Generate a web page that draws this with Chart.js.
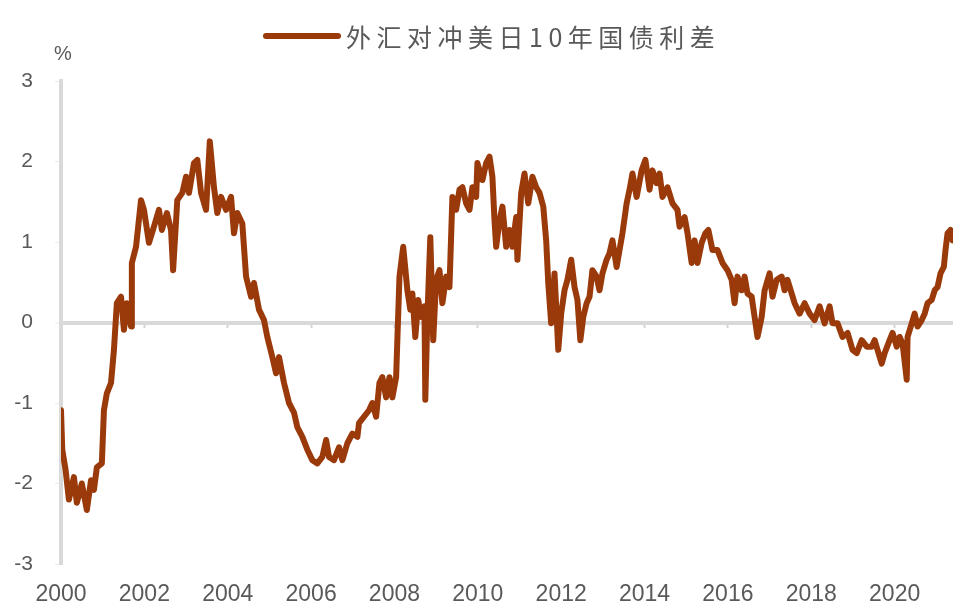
<!DOCTYPE html>
<html>
<head>
<meta charset="utf-8">
<script src="https://cdn.jsdelivr.net/npm/chart.js@4.4.1/dist/chart.umd.min.js"></script>
<style>
  html, body { margin: 0; padding: 0; background: #fff; }
  canvas { display: block; }
</style>
</head>
<body>
<canvas id="chart" width="964" height="611"></canvas>
<script>
// hedged US-JP 10y spread (decimal years, %)
const seriesName = '外汇对冲美日10年国债利差';
const years = [
  2000.00, 2000.03, 2000.11, 2000.19, 2000.31, 2000.38, 2000.50, 2000.62, 2000.72, 2000.79,
  2000.86, 2000.98, 2001.03, 2001.10, 2001.20, 2001.27, 2001.34, 2001.44, 2001.51, 2001.58,
  2001.68, 2001.70, 2001.80, 2001.92, 2001.99, 2002.11, 2002.23, 2002.35, 2002.42, 2002.54,
  2002.64, 2002.69, 2002.79, 2002.91, 2003.00, 2003.07, 2003.19, 2003.27, 2003.36, 2003.48,
  2003.57, 2003.67, 2003.75, 2003.84, 2003.96, 2004.08, 2004.15, 2004.23, 2004.35, 2004.44,
  2004.56, 2004.63, 2004.75, 2004.87, 2004.95, 2005.07, 2005.16, 2005.23, 2005.35, 2005.47,
  2005.59, 2005.67, 2005.79, 2005.91, 2006.03, 2006.15, 2006.27, 2006.36, 2006.43, 2006.55,
  2006.67, 2006.75, 2006.87, 2006.99, 2007.11, 2007.15, 2007.39, 2007.47, 2007.56, 2007.64,
  2007.71, 2007.80, 2007.88, 2007.95, 2008.04, 2008.12, 2008.21, 2008.31, 2008.38, 2008.43,
  2008.50, 2008.57, 2008.64, 2008.72, 2008.74, 2008.79, 2008.86, 2008.93, 2009.00, 2009.08,
  2009.15, 2009.24, 2009.32, 2009.39, 2009.48, 2009.56, 2009.63, 2009.72, 2009.80, 2009.87,
  2009.96, 2009.99, 2010.11, 2010.20, 2010.28, 2010.35, 2010.40, 2010.44, 2010.52, 2010.59,
  2010.68, 2010.76, 2010.83, 2010.92, 2010.95, 2011.04, 2011.12, 2011.21, 2011.31, 2011.40,
  2011.48, 2011.57, 2011.64, 2011.69, 2011.76, 2011.84, 2011.88, 2011.93, 2012.00, 2012.08,
  2012.15, 2012.24, 2012.32, 2012.39, 2012.46, 2012.53, 2012.61, 2012.68, 2012.75, 2012.85,
  2012.92, 2012.99, 2013.09, 2013.16, 2013.23, 2013.33, 2013.40, 2013.47, 2013.57, 2013.64,
  2013.71, 2013.81, 2013.93, 2014.02, 2014.12, 2014.19, 2014.29, 2014.36, 2014.43, 2014.55,
  2014.67, 2014.79, 2014.84, 2014.96, 2015.03, 2015.13, 2015.20, 2015.27, 2015.37, 2015.46,
  2015.53, 2015.63, 2015.75, 2015.87, 2015.99, 2016.09, 2016.16, 2016.23, 2016.33, 2016.40,
  2016.47, 2016.57, 2016.64, 2016.71, 2016.81, 2016.88, 2017.00, 2017.07, 2017.17, 2017.29,
  2017.36, 2017.43, 2017.60, 2017.72, 2017.84, 2017.96, 2018.08, 2018.20, 2018.32, 2018.44,
  2018.51, 2018.63, 2018.75, 2018.87, 2018.99, 2019.09, 2019.21, 2019.33, 2019.45, 2019.52,
  2019.59, 2019.69, 2019.76, 2019.88, 2019.95, 2020.05, 2020.12, 2020.19, 2020.29, 2020.31,
  2020.41, 2020.48, 2020.55, 2020.65, 2020.72, 2020.79, 2020.89, 2020.96, 2021.03, 2021.10,
  2021.18, 2021.22, 2021.27, 2021.34, 2021.39
];
const spread = [
  -1.09, -1.58, -1.83, -2.20, -1.92, -2.24, -2.00, -2.33, -1.96, -2.08,
  -1.80, -1.75, -1.09, -0.88, -0.75, -0.34, 0.24, 0.32, -0.09, 0.24,
  -0.05, 0.74, 0.94, 1.52, 1.40, 0.99, 1.19, 1.40, 1.15, 1.36,
  1.15, 0.65, 1.52, 1.61, 1.81, 1.61, 1.98, 2.02, 1.61, 1.40,
  2.25, 1.68, 1.36, 1.56, 1.40, 1.56, 1.11, 1.36, 1.23, 0.57,
  0.32, 0.49, 0.16, 0.03, -0.18, -0.43, -0.63, -0.43, -0.75, -1.00,
  -1.12, -1.30, -1.42, -1.58, -1.71, -1.75, -1.67, -1.46, -1.67, -1.71,
  -1.55, -1.71, -1.50, -1.38, -1.42, -1.25, -1.09, -1.00, -1.17, -0.75,
  -0.68, -0.93, -0.68, -0.93, -0.68, 0.57, 0.94, 0.40, 0.16, 0.36,
  -0.18, 0.28, 0.07, 0.20, -0.96, 0.07, 1.06, -0.22, 0.53, 0.65,
  0.24, 0.57, 0.44, 1.56, 1.40, 1.65, 1.68, 1.48, 1.40, 1.68,
  1.56, 1.98, 1.77, 1.98, 2.06, 1.81, 1.27, 0.94, 1.27, 1.44,
  0.94, 1.15, 0.94, 1.31, 0.78, 1.61, 1.85, 1.48, 1.81, 1.68,
  1.61, 1.44, 1.02, 0.49, -0.01, 0.61, 0.20, -0.34, 0.11, 0.40,
  0.53, 0.78, 0.44, 0.28, -0.22, 0.07, 0.24, 0.32, 0.65, 0.57,
  0.40, 0.61, 0.78, 0.86, 1.02, 0.69, 0.90, 1.11, 1.48, 1.65,
  1.85, 1.56, 1.89, 2.02, 1.65, 1.89, 1.73, 1.85, 1.56, 1.68,
  1.48, 1.40, 1.19, 1.31, 1.11, 0.74, 1.02, 0.74, 0.99, 1.11,
  1.15, 0.90, 0.90, 0.74, 0.65, 0.53, 0.24, 0.57, 0.40, 0.57,
  0.36, 0.32, 0.07, -0.18, 0.07, 0.40, 0.61, 0.32, 0.53, 0.57,
  0.40, 0.53, 0.24, 0.11, 0.24, 0.11, 0.03, 0.20, -0.01, 0.20,
  -0.01, -0.01, -0.18, -0.13, -0.34, -0.38, -0.22, -0.30, -0.30, -0.22,
  -0.34, -0.51, -0.38, -0.22, -0.13, -0.30, -0.18, -0.26, -0.71, -0.18,
  -0.01, 0.11, -0.05, 0.03, 0.11, 0.24, 0.28, 0.40, 0.44, 0.61,
  0.69, 0.90, 1.11, 1.15, 1.02
];
const yTicks = [-3, -2, -1, 0, 1, 2, 3];
const xStart = 2000;
const xEnd = 2021.4;

const lineColor = '#9a3a0a';
const textColor = '#595959';
const axisGray = '#d9d9d9';

// legend line + title and the "%" unit label
const extraText = {
  id: 'extraText',
  afterDraw(chart) {
    const ctx = chart.ctx;
    ctx.save();
    ctx.strokeStyle = lineColor;
    ctx.lineWidth = 6;
    ctx.lineCap = 'round';
    ctx.beginPath();
    ctx.moveTo(266, 36);
    ctx.lineTo(338, 36);
    ctx.stroke();

    ctx.fillStyle = textColor;
    ctx.font = '25px "Noto Sans CJK SC", sans-serif';
    ctx.textBaseline = 'middle';
    ctx.textAlign = 'left';
    ctx.letterSpacing = '5.5px';
    ctx.fillText(seriesName, 346, 37);
    ctx.letterSpacing = '0px';

    ctx.font = '20px "Liberation Sans", Arial, sans-serif';
    ctx.textAlign = 'center';
    ctx.fillText('%', 63, 54);
    ctx.restore();
  }
};

new Chart(document.getElementById('chart').getContext('2d'), {
  type: 'line',
  data: {
    datasets: [{
      label: seriesName,
      data: years.map((x, i) => ({ x: x, y: spread[i] })),
      borderColor: lineColor,
      backgroundColor: lineColor,
      borderWidth: 6,
      borderJoinStyle: 'round',
      borderCapStyle: 'round',
      pointRadius: 0,
      tension: 0
    }]
  },
  options: {
    responsive: false,
    animation: false,
    layout: { padding: { top: 81, right: 11, bottom: 0, left: 0 } },
    plugins: {
      legend: { display: false },
      tooltip: { enabled: false }
    },
    scales: {
      x: {
        type: 'linear',
        min: xStart,
        max: xEnd,
        grid: { display: false },
        border: { display: false },
        ticks: {
          stepSize: 2,
          includeBounds: false,
          padding: 9,
          color: textColor,
          font: { family: '"Liberation Sans", Arial, sans-serif', size: 23 },
          callback: v => String(v)
        },
        afterFit: s => { s.height = 47; }
      },
      xZero: {
        type: 'linear',
        min: xStart,
        max: xEnd,
        position: { y: 0 },
        grid: { drawOnChartArea: false, tickLength: 5, tickColor: '#d4d4d4', tickWidth: 2 },
        border: { display: false },
        ticks: { display: false, stepSize: 2, includeBounds: false }
      },
      y: {
        min: -3,
        max: 3,
        afterBuildTicks: s => { s.ticks = yTicks.map(v => ({ value: v })); },
        grid: {
          color: c => (c.tick && c.tick.value === 0 ? axisGray : 'rgba(0,0,0,0)'),
          lineWidth: c => (c.tick && c.tick.value === 0 ? 4 : 1),
          tickColor: '#ececec',
          tickLength: 6,
          tickWidth: 1
        },
        border: { color: axisGray, width: 4 },
        ticks: {
          padding: 22,
          color: textColor,
          font: { family: '"Liberation Sans", Arial, sans-serif', size: 21 }
        },
        afterFit: s => { s.width = 61; }
      }
    }
  },
  plugins: [extraText]
});
</script>
</body>
</html>
